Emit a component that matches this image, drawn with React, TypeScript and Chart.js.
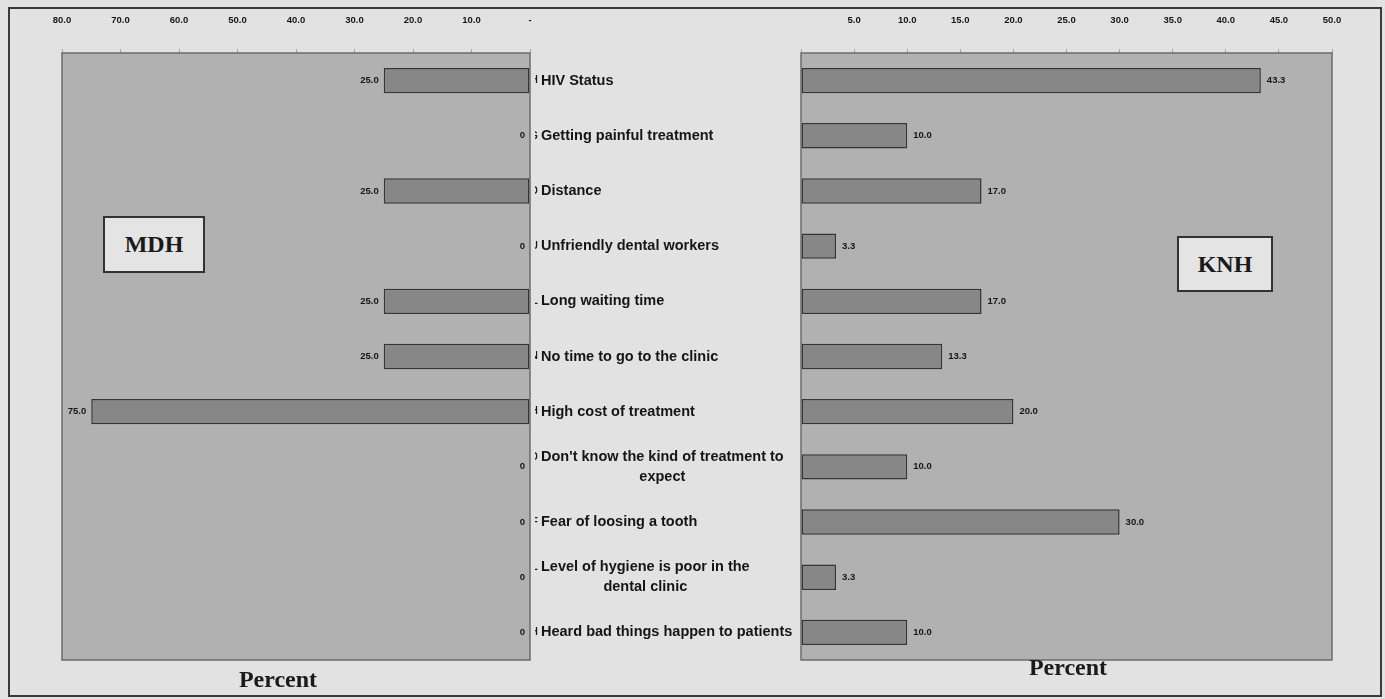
import { useEffect, useRef } from "react";
import { Chart, registerables } from "chart.js";

Chart.register(...registerables);

// Reasons for not visiting the dental clinic, percent of respondents per hospital
const categories: (string | string[])[] = [
  "HIV Status",
  "Getting painful treatment",
  "Distance",
  "Unfriendly dental workers",
  "Long waiting time",
  "No time to go to the clinic",
  "High cost of treatment",
  ["Don't know the kind of treatment to", "expect"],
  "Fear of loosing a tooth",
  ["Level of hygiene is poor in the", "dental clinic"],
  "Heard bad things happen to patients",
];

const mdhPercent = [25.0, 0, 25.0, 0, 25.0, 25.0, 75.0, 0, 0, 0, 0];
const knhPercent = [43.3, 10.0, 17.0, 3.3, 17.0, 13.3, 20.0, 10.0, 30.0, 3.3, 10.0];

const mdhAxisMax = 80;
const mdhAxisStep = 10;
const knhAxisMax = 50;
const knhAxisStep = 5;

const PAGE_BG = "#e2e2e2";
const PLOT_BG = "#b1b1b1";
const BAR_FILL = "#878787";
const BAR_EDGE = "#353535";
const INK = "#151515";
const NARROW = '"Liberation Sans Narrow", "Liberation Sans", Arial, sans-serif';
const SANS = '"Liberation Sans", Arial, sans-serif';
const SERIF = '"Liberation Serif", "Times New Roman", serif';

const CANVAS_H = 699;

const plotFrame = {
  id: "plotFrame",
  beforeDraw(chart: any) {
    const { ctx, chartArea: a } = chart;
    ctx.save();
    ctx.fillStyle = PLOT_BG;
    ctx.fillRect(a.left, a.top, a.right - a.left, a.bottom - a.top);
    ctx.restore();
  },
  afterDraw(chart: any) {
    const { ctx, chartArea: a } = chart;
    ctx.save();
    ctx.strokeStyle = "#6c6c6c";
    ctx.lineWidth = 1.5;
    ctx.strokeRect(a.left, a.top, a.right - a.left, a.bottom - a.top);
    ctx.restore();
  },
};

function valueLabels(side: "left" | "right") {
  return {
    id: "valueLabels",
    afterDatasetsDraw(chart: any) {
      const { ctx } = chart;
      const meta = chart.getDatasetMeta(0);
      const data = chart.data.datasets[0].data as number[];
      ctx.save();
      ctx.font = `bold 9.5px ${NARROW}`;
      ctx.fillStyle = INK;
      ctx.textBaseline = "middle";
      meta.data.forEach((bar: any, i: number) => {
        const v = data[i];
        const txt = v === 0 ? "0" : v.toFixed(1);
        if (side === "left") {
          ctx.textAlign = "right";
          ctx.fillText(txt, bar.x - 5, bar.y);
        } else {
          ctx.textAlign = "left";
          ctx.fillText(txt, bar.x + 6, bar.y);
        }
      });
      ctx.restore();
    },
  };
}

// Category names sit in the gap between the two plots
const categoryText = {
  id: "categoryText",
  afterDraw(chart: any) {
    const { ctx } = chart;
    const y = chart.scales.y;
    const x0 = 11;
    const lineH = 20;
    ctx.save();
    ctx.fillStyle = INK;
    ctx.textBaseline = "middle";
    categories.forEach((lab, i) => {
      const lines = Array.isArray(lab) ? lab : [lab];
      const cy = y.getPixelForValue(i);
      const firstY = cy - ((lines.length - 1) * lineH) / 2;
      ctx.font = `bold 14.5px ${SANS}`;
      const w0 = ctx.measureText(lines[0]).width;
      lines.forEach((ln, k) => {
        if (k === 0) {
          ctx.textAlign = "left";
          ctx.fillText(ln, x0, firstY);
        } else {
          ctx.textAlign = "center";
          ctx.fillText(ln, x0 + w0 / 2, firstY + k * lineH);
        }
      });
      // clipped initial left over from the neighbouring axis
      ctx.save();
      ctx.beginPath();
      ctx.rect(5, firstY - 6, 2.5, 12);
      ctx.clip();
      ctx.font = `bold 10px ${SANS}`;
      ctx.textAlign = "right";
      ctx.fillText(lines[0][0], 8, firstY);
      ctx.restore();
    });
    ctx.restore();
  },
};

function xAxis(max: number, step: number, reverse: boolean, fmt: (v: number) => string) {
  return {
    type: "linear" as const,
    position: "top" as const,
    reverse,
    min: 0,
    max,
    ticks: {
      stepSize: step,
      autoSkip: false,
      maxRotation: 0,
      padding: 23,
      color: INK,
      font: { family: NARROW, size: 9.5, weight: "bold" as const },
      callback: (v: any) => fmt(Number(v)),
    },
    grid: { drawOnChartArea: false, drawTicks: true, tickLength: 4, color: "#a6a6a6" },
    border: { display: false },
    afterFit: (s: any) => {
      s.height = 45;
    },
  };
}

function baseOptions(xScale: any, padding: any) {
  return {
    indexAxis: "y" as const,
    responsive: false,
    animation: false as const,
    events: [],
    layout: { padding },
    plugins: { legend: { display: false }, tooltip: { enabled: false }, title: { display: false } },
    scales: {
      x: xScale,
      y: { display: false },
    },
  };
}

function barDataset(data: number[]) {
  return {
    data,
    backgroundColor: BAR_FILL,
    borderColor: BAR_EDGE,
    borderWidth: 1.5,
    borderSkipped: false,
    barPercentage: 0.46,
    categoryPercentage: 1,
  };
}

function MdhChart() {
  const ref = useRef<HTMLCanvasElement>(null);
  useEffect(() => {
    if (!ref.current) return;
    const chart = new Chart(ref.current, {
      type: "bar",
      data: { labels: categories as any, datasets: [barDataset(mdhPercent)] },
      options: baseOptions(
        xAxis(mdhAxisMax, mdhAxisStep, true, (v) => (v === 0 ? "-" : v.toFixed(1))),
        { left: 62, right: 30, top: 8, bottom: 39 }
      ) as any,
      plugins: [plotFrame, valueLabels("left")],
    });
    return () => chart.destroy();
  }, []);
  return (
    <canvas
      ref={ref}
      width={560}
      height={CANVAS_H}
      style={{ position: "absolute", left: 0, top: 0, width: 560, height: CANVAS_H }}
    />
  );
}

function KnhChart() {
  const ref = useRef<HTMLCanvasElement>(null);
  useEffect(() => {
    if (!ref.current) return;
    const chart = new Chart(ref.current, {
      type: "bar",
      data: { labels: categories as any, datasets: [barDataset(knhPercent)] },
      options: baseOptions(
        xAxis(knhAxisMax, knhAxisStep, false, (v) => (v === 0 ? "" : v.toFixed(1))),
        { left: 271, right: 53, top: 8, bottom: 39 }
      ) as any,
      plugins: [plotFrame, valueLabels("right"), categoryText],
    });
    return () => chart.destroy();
  }, []);
  return (
    <canvas
      ref={ref}
      width={855}
      height={CANVAS_H}
      style={{ position: "absolute", left: 530, top: 0, width: 855, height: CANVAS_H }}
    />
  );
}

const boxStyle = (left: number, top: number, width: number, height: number) => ({
  position: "absolute" as const,
  left,
  top,
  width,
  height,
  boxSizing: "border-box" as const,
  border: "2px solid #333",
  background: "#e4e4e4",
  display: "flex",
  alignItems: "center",
  justifyContent: "center",
  font: `bold 24px ${SERIF}`,
  color: "#1a1a1a",
});

const titleStyle = (cx: number, cy: number) => ({
  position: "absolute" as const,
  left: cx - 60,
  top: cy - 15,
  width: 120,
  height: 30,
  lineHeight: "30px",
  textAlign: "center" as const,
  font: `bold 24px ${SERIF}`,
  color: "#1a1a1a",
});

export default function App() {
  return (
    <div
      style={{
        position: "fixed",
        left: 0,
        top: 0,
        width: 1385,
        height: CANVAS_H,
        background: PAGE_BG,
        overflow: "hidden",
      }}
    >
      <div
        style={{
          position: "absolute",
          left: 8,
          top: 7,
          width: 1374,
          height: 690,
          boxSizing: "border-box",
          border: "2px solid #3a3a3a",
        }}
      />
      <MdhChart />
      <KnhChart />
      <div style={boxStyle(103, 216, 102, 57)}>MDH</div>
      <div style={boxStyle(1177, 236, 96, 56)}>KNH</div>
      <div style={titleStyle(278, 681)}>Percent</div>
      <div style={titleStyle(1068, 669)}>Percent</div>
    </div>
  );
}
